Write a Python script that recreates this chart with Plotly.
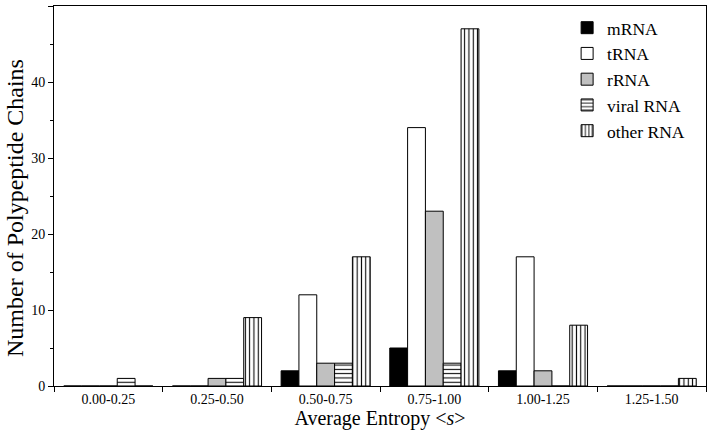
import plotly.graph_objects as go

categories = ["0.00-0.25", "0.25-0.50", "0.50-0.75", "0.75-1.00", "1.00-1.25", "1.25-1.50"]
mrna = [0, 0, 2, 5, 2, 0]
trna = [0, 0, 12, 34, 17, 0]
rrna = [0, 1, 3, 23, 2, 0]
viral = [1, 1, 3, 3, 0, 0]
other = [0, 9, 17, 47, 8, 1]

series = [
    ("mRNA", mrna, "black", ""),
    ("tRNA", trna, "white", ""),
    ("rRNA", rrna, "#c0c0c0", ""),
    ("viral RNA", viral, "white", "-"),
    ("other RNA", other, "white", "|"),
]

fig = go.Figure()
for name, vals, color, shape in series:
    marker = dict(color=color, line=dict(color="black", width=1))
    if shape:
        marker["pattern"] = dict(shape=shape, fgcolor="black", bgcolor="white",
                                 size=4.3, solidity=0.25, fillmode="replace")
    fig.add_trace(go.Bar(x=categories, y=vals, name=name, marker=marker))

font_family = "Liberation Serif"
fig.update_layout(
    width=709, height=436,
    margin=dict(l=54, r=3, t=6, b=50, autoexpand=False),
    barmode="group", bargap=0.18, bargroupgap=0,
    plot_bgcolor="white", paper_bgcolor="white",
    font=dict(family=font_family, color="black", size=14),
    legend=dict(x=0.787, y=0.99, xanchor="left", yanchor="top",
                font=dict(size=17.5, family=font_family), bgcolor="rgba(0,0,0,0)",
                tracegroupgap=0, itemwidth=30),
    xaxis=dict(
        title=dict(text="Average Entropy &lt;<i>s</i>&gt;", font=dict(size=20), standoff=2),
        automargin=False,
        type="category", tickson="boundaries", ticks="outside", ticklen=5,
        tickcolor="black", showline=True, linecolor="black", linewidth=1,
        mirror=True, showgrid=False, tickfont=dict(size=14),
    ),
    yaxis=dict(
        automargin=False,
        range=[0, 50], tickvals=[0, 10, 20, 30, 40, 50], ticks="outside", ticklen=5,
        tickcolor="black", showline=True, linecolor="black", linewidth=1,
        mirror=True, showgrid=False, zeroline=False, tickfont=dict(size=14),
        minor=dict(tickvals=[5, 15, 25, 35, 45], ticks="outside", ticklen=3, tickcolor="black"),
    ),
    annotations=[dict(
        text="Number of Polypeptide Chains", textangle=-90, showarrow=False,
        xref="paper", yref="paper", x=0, y=0.5, xanchor="center", yanchor="middle",
        xshift=-39, yshift=-12, font=dict(size=24, family=font_family),
    )],
)

fig.write_html("out.html", config={"displayModeBar": False},
               post_script="document.body.style.margin='0';document.body.style.overflow='hidden';")
